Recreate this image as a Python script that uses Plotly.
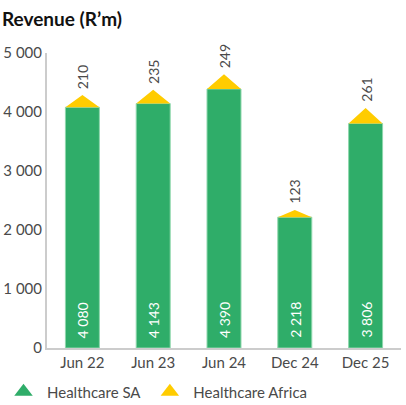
import plotly.graph_objects as go

categories = ["Jun 22", "Jun 23", "Jun 24", "Dec 24", "Dec 25"]
healthcare_sa = [4080, 4143, 4390, 2218, 3806]
healthcare_africa = [210, 235, 249, 123, 261]
sa_labels = ["4 080", "4 143", "4 390", "2 218", "3 806"]
africa_labels = ["210", "235", "249", "123", "261"]
y_ticks = [0, 1000, 2000, 3000, 4000, 5000]
y_tick_labels = ["0", "1 000", "2 000", "3 000", "4 000", "5 000"]

GREEN = "#2FAD69"
YELLOW = "#FFCC00"
FONT = "Lato"
TXT = "#4a4a4a"
bar_w = 0.48

xs = list(range(len(categories)))

fig = go.Figure()

fig.add_trace(go.Bar(
    x=xs, y=healthcare_sa, width=bar_w,
    marker=dict(color=GREEN, line=dict(color="#8ED7AC", width=1)),
    showlegend=False, hoverinfo="skip",
))

# triangles for Healthcare Africa
tx, ty = [], []
for i, (sa, af) in enumerate(zip(healthcare_sa, healthcare_africa)):
    tx += [i - bar_w / 2, i, i + bar_w / 2, i - bar_w / 2, None]
    ty += [sa, sa + af, sa, sa, None]
fig.add_trace(go.Scatter(
    x=tx, y=ty, mode="lines", fill="toself", fillcolor=YELLOW,
    line=dict(color=YELLOW, width=0), showlegend=False, hoverinfo="skip",
))

for i, (sa, af, lab, slab) in enumerate(zip(healthcare_sa, healthcare_africa,
                                             africa_labels, sa_labels)):
    fig.add_annotation(
        x=i, y=sa + af, text=lab, showarrow=False, textangle=-90,
        xanchor="center", yanchor="bottom", yshift=4,
        font=dict(size=14, color=TXT, family=FONT),
    )
    fig.add_annotation(
        x=i, y=0, text=slab, showarrow=False, textangle=-90,
        xanchor="center", yanchor="bottom", yshift=8,
        font=dict(size=14, color="white", family=FONT),
    )

# legend entries
fig.add_trace(go.Scatter(
    x=[None], y=[None], mode="markers", name="Healthcare SA",
    marker=dict(symbol="triangle-up", size=18, color=GREEN),
))
fig.add_trace(go.Scatter(
    x=[None], y=[None], mode="markers", name="Healthcare Africa",
    marker=dict(symbol="triangle-up", size=18, color=YELLOW),
))

fig.update_layout(
    width=406, height=405,
    margin=dict(l=47, r=5, t=53, b=57, autoexpand=False),
    plot_bgcolor="white", paper_bgcolor="white",
    font=dict(family=FONT, size=15, color=TXT),
    title=dict(text="<b>Revenue (R’m)</b>", x=2 / 406, xanchor="left", xref="container",
               y=1 - 19 / 405, yanchor="middle", yref="container",
               font=dict(size=19, color="#111111", family=FONT)),
    showlegend=True,
    legend=dict(orientation="h", xref="container", yref="container",
                x=-5 / 406, xanchor="left", y=1 - 392 / 405, yanchor="middle",
                itemwidth=37,
                font=dict(size=15, color=TXT, family=FONT),
                bgcolor="rgba(0,0,0,0)"),
    xaxis=dict(range=[-0.5, 4.5], tickvals=xs, ticktext=categories, showgrid=False,
               zeroline=False, showline=True, linecolor="#cccccc", linewidth=2,
               ticks="", tickfont=dict(size=15, color=TXT)),
    yaxis=dict(range=[0, 5000], tickvals=y_ticks, ticktext=y_tick_labels, showgrid=False,
               zeroline=False, showline=True, linecolor="#cccccc", linewidth=2,
               ticks="", tickfont=dict(size=15, color=TXT)),
)

fig.write_html("out.html", config={"displayModeBar": False},
               post_script="document.body.style.margin='0';")
